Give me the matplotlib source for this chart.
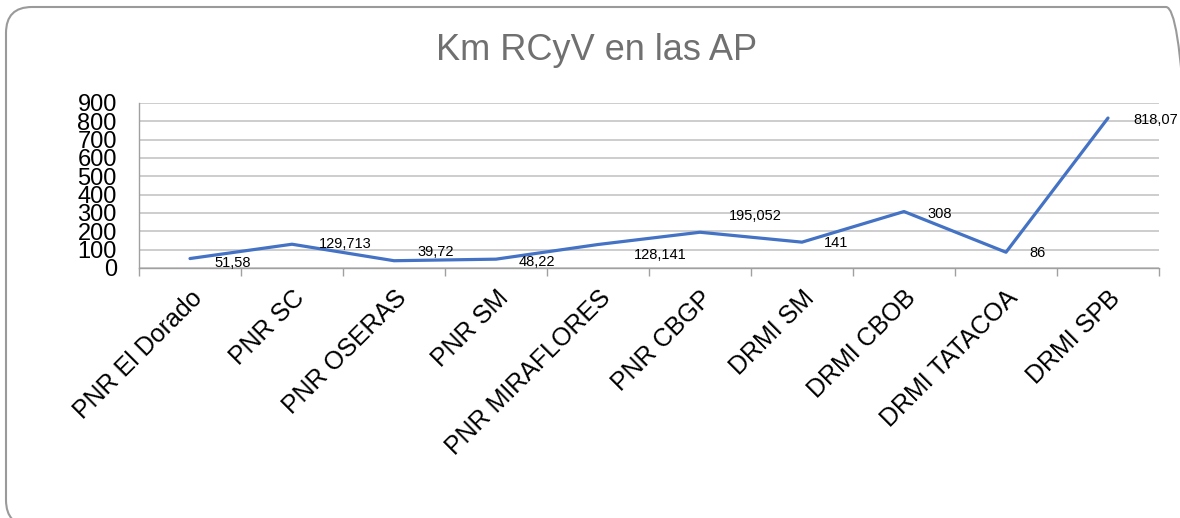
import matplotlib.pyplot as plt
from matplotlib.patches import FancyBboxPatch
from matplotlib.ticker import MultipleLocator

plt.rcParams['font.family'] = ['Liberation Sans', 'DejaVu Sans']

# Datos
areas = ['PNR El Dorado', 'PNR SC', 'PNR OSERAS', 'PNR SM', 'PNR MIRAFLORES',
         'PNR CBGP', 'DRMI SM', 'DRMI CBOB', 'DRMI TATACOA', 'DRMI SPB']
km = [51.58, 129.713, 39.72, 48.22, 128.141, 195.052, 141, 308, 86, 818.07]
etiquetas = ['51,58', '129,713', '39,72', '48,22', '128,141',
             '195,052', '141', '308', '86', '818,07']

# desplazamiento de las etiquetas (pixeles)
desp = [(43, -4), (53, 0), (42, 9), (41, -3), (62, -10),
        (55, 16), (34, -1), (36, -2), (32, -1), (48, -2)]

fig = plt.figure(figsize=(11.8, 5.18), dpi=100)
ax = fig.add_axes([139 / 1180, 1 - 268 / 518, 1020 / 1180, 165 / 518])

# marco redondeado (en pixeles)
marco = FancyBboxPatch((6, -8), 1186, 519,
                       boxstyle='round,pad=0,rounding_size=26',
                       transform=None, fill=False,
                       edgecolor='#9a9a9a', linewidth=1.5)
fig.patches.append(marco)

x = list(range(len(areas)))
ax.plot(x, km, color='#4472C4', linewidth=2.3, solid_capstyle='round', zorder=3)

for i in x:
    ax.annotate(etiquetas[i], (x[i], km[i]), xytext=desp[i],
                textcoords='offset pixels', ha='center', va='center',
                fontsize=10.5, color='black')

ax.set_xlim(-0.5, len(areas) - 0.5)
ax.set_ylim(0, 900)
ax.yaxis.set_major_locator(MultipleLocator(100))
ax.grid(axis='y', color='#c0c0c0', linewidth=1.1)
ax.set_axisbelow(True)

ax.set_xticks(x)
ax.set_xticklabels(areas, rotation=45, ha='right', rotation_mode='anchor',
                   fontsize=18)
ax.set_xticks([i + 0.5 for i in range(-1, len(areas))], minor=True)
ax.tick_params(axis='x', which='major', length=0, pad=13)
ax.tick_params(axis='x', which='minor', length=6, color='#a0a0a0', width=1)
ax.tick_params(axis='y', length=0, pad=16, labelsize=17)

for s in ['top', 'right']:
    ax.spines[s].set_visible(False)
for s in ['left', 'bottom']:
    ax.spines[s].set_color('#a0a0a0')
    ax.spines[s].set_linewidth(1)

fig.text(597 / 1180, 1 - 50 / 518, 'Km RCyV en las AP', ha='center',
         va='center', fontsize=26, color='#707070')

fig.savefig('out.png', dpi=100)
